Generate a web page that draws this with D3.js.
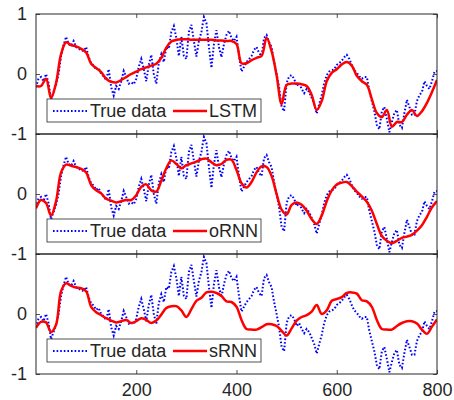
<!DOCTYPE html>
<html>
<head>
<meta charset="utf-8">
<script src="https://cdn.jsdelivr.net/npm/d3@7"></script>
<style>
  body { margin: 0; background: #fff; }
  svg text { font-family: "Liberation Sans", Arial, Helvetica, sans-serif; fill: #262626; }
</style>
</head>
<body>
<svg id="chart" width="454" height="400"></svg>
<script>
(function(){
    'use strict';

    // True signal, one value every 5 steps (0..800)
    const trueStep = 5;
    const trueData = [
        -0.22, -0.08, -0.05, -0.12, 0.0, -0.15, -0.42, -0.3, -0.18, 0.0,
        0.3, 0.48, 0.62, 0.5, 0.47, 0.55, 0.45, 0.42, 0.4, 0.38,
        0.45, 0.28, 0.18, 0.14, 0.07, 0.1, 0.0, -0.04, -0.1, 0.08,
        -0.22, -0.36, -0.2, -0.25, -0.12, 0.05, -0.05, -0.16, -0.14, -0.17,
        -0.08, 0.12, 0.25, 0.08, -0.12, 0.15, 0.32, 0.0, -0.16, 0.18,
        0.33, 0.2, 0.45, 0.42, 0.7, 0.8, 0.6, 0.3, 0.62, 0.3,
        0.25, 0.7, 0.82, 0.55, 0.29, 0.55, 0.7, 0.95, 0.85, 0.45,
        0.1, 0.5, 0.73, 0.45, 0.28, 0.5, 0.65, 0.72, 0.6, 0.55,
        0.62, 0.3, 0.04, 0.12, 0.2, 0.25, 0.3, 0.4, 0.45, 0.35,
        0.3, 0.6, 0.65, 0.53, 0.45, 0.2, 0.0, -0.22, -0.55, -0.62,
        -0.15, -0.04, -0.02, -0.08, -0.2, -0.15, -0.25, -0.32, -0.25, -0.3,
        -0.4, -0.5, -0.66, -0.5, -0.35, -0.15, -0.02, 0.04, 0.06, 0.08,
        0.15, 0.18, 0.22, 0.28, 0.32, 0.25, 0.15, 0.06, 0.02, -0.04,
        -0.08, -0.05, -0.05, -0.28, -0.45, -0.62, -0.85, -0.92, -0.62, -0.55,
        -0.75, -0.97, -0.8, -0.65, -0.6, -0.85, -0.9, -0.65, -0.43, -0.55,
        -0.68, -0.68, -0.45, -0.35, -0.3, -0.12, -0.2, -0.25, -0.12, 0.04,
        0.05
    ];

    // Model predictions, one value every 10 steps (0..800)
    const modelStep = 10;
    const lstm = [
        -0.2, -0.2, -0.08, -0.4, -0.15, 0.33, 0.53, 0.48, 0.46, 0.42,
        0.36, 0.17, 0.1, 0.03, -0.08, -0.13, -0.14, -0.1, -0.05, 0.0,
        0.04, 0.08, 0.11, 0.14, 0.17, 0.27, 0.44, 0.54, 0.57, 0.58,
        0.58, 0.57, 0.57, 0.57, 0.57, 0.57, 0.56, 0.56, 0.55, 0.55,
        0.5, 0.18, 0.18, 0.23, 0.27, 0.3, 0.6, 0.38, -0.02, -0.5,
        -0.18, -0.16, -0.16, -0.17, -0.2, -0.35, -0.6, -0.45, -0.12, 0.02,
        0.08, 0.16, 0.2, 0.14, -0.03, -0.12, -0.18, -0.42, -0.65, -0.72,
        -0.6, -0.88, -0.8, -0.8, -0.68, -0.6, -0.7, -0.62, -0.48, -0.3,
        -0.1
    ];
    const ornn = [
        -0.24, -0.1, -0.15, -0.36, -0.12, 0.36, 0.49, 0.47, 0.45, 0.42,
        0.36, 0.15, 0.06, 0.01, -0.08, -0.11, -0.14, -0.12, -0.1, -0.1,
        -0.02, 0.12, 0.16, 0.06, 0.04, 0.22, 0.43, 0.56, 0.5, 0.43,
        0.48, 0.51, 0.54, 0.58, 0.59, 0.53, 0.48, 0.5, 0.57, 0.57,
        0.4, 0.18, 0.11, 0.2, 0.36, 0.46, 0.45, 0.3, 0.0, -0.26,
        -0.34, -0.18, -0.14, -0.18, -0.28, -0.42, -0.5, -0.36, -0.12, 0.06,
        0.16, 0.19, 0.2, 0.13, 0.04, -0.04, -0.13, -0.28, -0.5, -0.7,
        -0.78, -0.82, -0.78, -0.73, -0.71, -0.68, -0.61, -0.52, -0.38, -0.22,
        -0.12
    ];
    const srnn = [
        -0.23, -0.13, -0.14, -0.3, -0.18, 0.38, 0.51, 0.47, 0.44, 0.43,
        0.38, 0.12, 0.03, -0.02, -0.07, -0.11, -0.14, -0.12, -0.1, -0.15,
        -0.12, -0.07, -0.1, -0.15, -0.11, -0.01, 0.1, 0.13, 0.13, 0.06,
        -0.05, 0.08, 0.22, 0.27, 0.36, 0.37, 0.35, 0.3, 0.21, 0.2,
        0.12, -0.1, -0.25, -0.26, -0.26, -0.22, -0.17, -0.17, -0.2, -0.28,
        -0.36, -0.24, -0.11, -0.05, -0.02, 0.04, 0.15, 0.0, 0.06, 0.22,
        0.25, 0.28, 0.35, 0.36, 0.34, 0.23, 0.21, 0.12, -0.1, -0.25,
        -0.26, -0.26, -0.2, -0.15, -0.12, -0.12, -0.16, -0.26, -0.33, -0.21,
        -0.09
    ];

    const panels = [
        {name: 'LSTM', values: lstm},
        {name: 'oRNN', values: ornn},
        {name: 'sRNN', values: srnn}
    ];
    const xTicks = [200, 400, 600, 800];
    const yTicks = [-1, 0, 1];

    const margin = {left: 36, right: 17, top: 14};
    const width = 454;
    const panelHeight = 120;
    const axisColor = '#262626';

    const svg = d3.select('#chart');

    const x = d3.scaleLinear()
        .domain([0, 800])
        .range([margin.left, width - margin.right]);

    svg.append('defs').append('clipPath')
        .attr('id', 'clip')
        .append('rect')
        .attr('x', x(0)).attr('y', 0)
        .attr('width', x(800) - x(0)).attr('height', panelHeight);

    function styleAxis(g){
        g.select('.domain').remove();
        g.selectAll('.tick line').attr('stroke', axisColor).attr('stroke-width', 0.8);
        g.selectAll('.tick text').attr('font-size', 18).attr('fill', axisColor);
    }

    panels.forEach((p, i) => {
        const top = margin.top + i * panelHeight;
        const g = svg.append('g').attr('transform', `translate(0, ${top})`);

        const y = d3.scaleLinear()
            .domain([-1, 1])
            .range([panelHeight, 0]);

        const plot = g.append('g').attr('clip-path', 'url(#clip)');

        const trueLine = d3.line()
            .x((d, k) => x(k * trueStep))
            .y(d => y(d));

        const modelLine = d3.line()
            .x((d, k) => x(k * modelStep))
            .y(d => y(d))
            .curve(d3.curveCatmullRom.alpha(0.5));

        plot.append('path')
            .datum(trueData)
            .attr('d', trueLine)
            .attr('fill', 'none')
            .attr('stroke', '#0000ff')
            .attr('stroke-width', 2)
            .attr('stroke-dasharray', '1.6,2');

        plot.append('path')
            .datum(p.values)
            .attr('d', modelLine)
            .attr('fill', 'none')
            .attr('stroke', '#ff0000')
            .attr('stroke-width', 2.5)
            .attr('stroke-linejoin', 'round');

        // legend
        const leg = g.append('g').attr('transform', 'translate(47, 85)');
        leg.append('rect')
            .attr('width', 214).attr('height', 23)
            .attr('fill', '#fff')
            .attr('stroke', axisColor)
            .attr('stroke-width', 0.8);
        leg.append('line')
            .attr('x1', 6).attr('x2', 40).attr('y1', 12).attr('y2', 12)
            .attr('stroke', '#0000ff').attr('stroke-width', 2)
            .attr('stroke-dasharray', '1.6,2');
        leg.append('text')
            .attr('x', 43).attr('y', 12).attr('dy', '0.35em')
            .attr('font-size', 18)
            .text('True data');
        leg.append('line')
            .attr('x1', 126).attr('x2', 160).attr('y1', 12).attr('y2', 12)
            .attr('stroke', '#ff0000').attr('stroke-width', 2.5);
        leg.append('text')
            .attr('x', 162).attr('y', 12).attr('dy', '0.35em')
            .attr('font-size', 18)
            .text(p.name);

        // axes, ticks pointing inward; lower panels share the "-1" label above
        const yLabel = d => (d === 1 && i > 0) ? '' : String(d);
        g.append('g')
            .attr('transform', `translate(${x(0)}, 0)`)
            .call(d3.axisLeft(y).tickValues(yTicks).tickSize(-4).tickPadding(9).tickFormat(yLabel))
            .call(styleAxis);
        g.append('g')
            .attr('transform', `translate(${x(800)}, 0)`)
            .call(d3.axisRight(y).tickValues(yTicks).tickSize(-4).tickFormat(''))
            .call(styleAxis);
        g.append('g')
            .call(d3.axisTop(x).tickValues(xTicks).tickSize(-4).tickFormat(''))
            .call(styleAxis);
        g.append('g')
            .attr('transform', `translate(0, ${panelHeight})`)
            .call(d3.axisBottom(x).tickValues(xTicks).tickSize(-4).tickPadding(9)
                .tickFormat(i === panels.length - 1 ? d => String(d) : ''))
            .call(styleAxis);

        g.append('rect')
            .attr('x', x(0)).attr('y', 0)
            .attr('width', x(800) - x(0)).attr('height', panelHeight)
            .attr('fill', 'none')
            .attr('stroke', axisColor)
            .attr('stroke-width', 1);
    });
})();
</script>
</body>
</html>
